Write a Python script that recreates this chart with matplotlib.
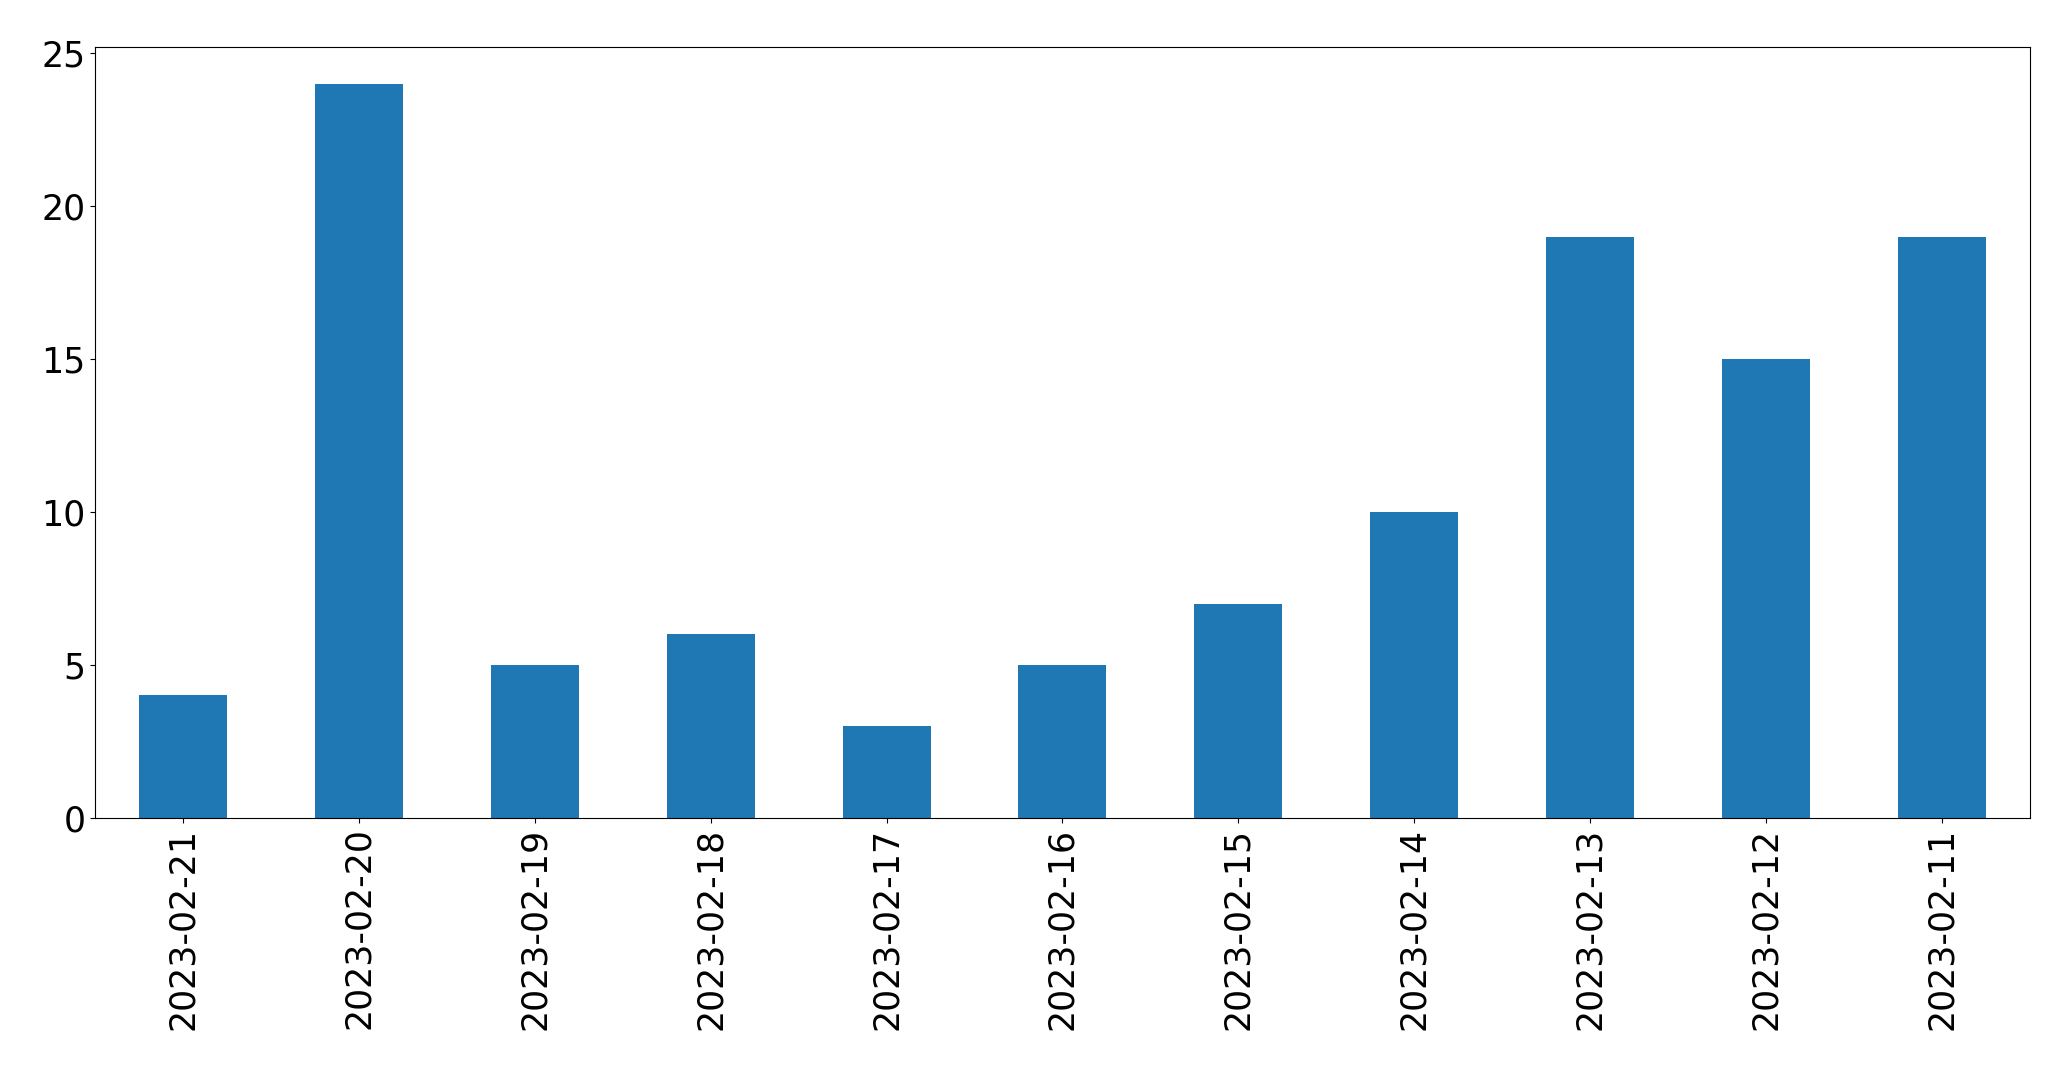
import matplotlib
matplotlib.use("Agg")
import matplotlib.pyplot as plt
import pandas as pd

dates = ['2023-02-21', '2023-02-20', '2023-02-19', '2023-02-18', '2023-02-17',
         '2023-02-16', '2023-02-15', '2023-02-14', '2023-02-13', '2023-02-12',
         '2023-02-11']
counts = [4, 24, 5, 6, 3, 5, 7, 10, 19, 15, 19]

s = pd.Series(counts, index=dates)

fig, ax = plt.subplots(figsize=(20.71, 10.69), dpi=100)
s.plot(kind='bar', ax=ax, color='#1f77b4')
ax.tick_params(labelsize=25)
fig.subplots_adjust(left=0.046, right=0.98, top=0.956, bottom=0.235)
fig.savefig('out.png', dpi=100)
